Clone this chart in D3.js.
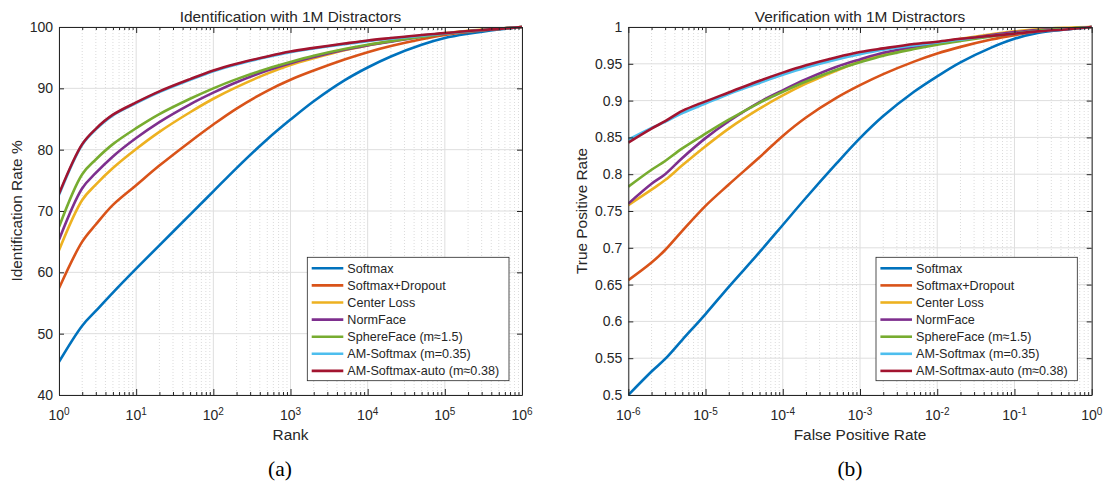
<!DOCTYPE html>
<html><head><meta charset="utf-8">
<script src="https://cdn.jsdelivr.net/npm/d3@7"></script>
<style>
body{margin:0;background:#fff;}
svg text{font-family:"Liberation Sans",Arial,Helvetica,sans-serif;fill:#262626;}
</style></head><body>
<svg id="c" width="1105" height="486"></svg>
<script>
// ---------- data ----------
const seriesNames = ["Softmax","Softmax+Dropout","Center Loss","NormFace","SphereFace (m\u22481.5)","AM-Softmax (m=0.35)","AM-Softmax-auto (m\u22480.38)"];
const seriesColors = ["#0072BD","#D95319","#EDB120","#7E2F8E","#77AC30","#4DBEEE","#A2142F"];

// (a) Identification with 1M distractors
const ranks = [1,2,3,5,10,20,50,100,200,500,1e3,2e3,5e3,1e4,2e4,5e4,1e5,2e5,5e5,1e6];
const idSoftmax     = [45.4,51.3,53.7,56.7,60.6,64.4,69.4,73.2,77.0,81.7,84.9,87.9,91.3,93.4,95.2,97.1,98.2,98.9,99.6,100];
const idDropout     = [57.4,65.0,67.8,71.0,74.2,77.4,81.3,84.1,86.7,89.6,91.4,92.9,94.7,95.9,96.9,98.0,98.7,99.2,99.7,100];
const idCenter      = [63.6,71.8,74.3,77.0,80.1,82.9,86.1,88.3,90.2,92.4,93.8,94.9,96.2,97.0,97.7,98.5,99.0,99.4,99.75,100];
const idNormFace    = [65.3,73.7,76.2,78.9,81.9,84.5,87.4,89.3,91.0,92.9,94.1,95.1,96.3,97.0,97.6,98.4,98.9,99.3,99.7,100];
const idSphereFace  = [67.4,76.0,78.4,80.9,83.5,85.8,88.3,90.0,91.5,93.2,94.3,95.3,96.4,97.1,97.7,98.4,98.9,99.3,99.7,100];
const idAMSoftmax   = [72.6,80.8,83.3,85.6,87.6,89.4,91.4,92.8,93.9,95.1,95.9,96.5,97.2,97.7,98.1,98.6,98.95,99.3,99.7,100];
const idAMAuto      = [72.8,80.9,83.4,85.7,87.7,89.5,91.5,92.9,94.0,95.2,96.0,96.6,97.3,97.8,98.2,98.7,99.0,99.35,99.7,100];

// (b) Verification with 1M distractors
const fpr = [1e-6,2e-6,3e-6,5e-6,1e-5,2e-5,5e-5,1e-4,2e-4,5e-4,1e-3,2e-3,5e-3,1e-2,2e-2,5e-2,1e-1,2e-1,5e-1,1];
const vSoftmax    = [0.500,0.532,0.549,0.575,0.610,0.647,0.694,0.731,0.768,0.815,0.849,0.879,0.912,0.933,0.952,0.972,0.984,0.992,0.997,1.0];
const vDropout    = [0.656,0.680,0.697,0.723,0.757,0.786,0.823,0.852,0.877,0.904,0.921,0.936,0.953,0.964,0.973,0.983,0.989,0.994,0.998,1.0];
const vCenter     = [0.758,0.779,0.792,0.812,0.838,0.862,0.889,0.907,0.923,0.941,0.953,0.963,0.973,0.979,0.984,0.990,0.994,0.997,0.999,1.0];
const vNormFace   = [0.760,0.787,0.800,0.822,0.849,0.872,0.898,0.914,0.929,0.946,0.956,0.965,0.973,0.978,0.983,0.989,0.993,0.996,0.998,1.0];
const vSphereFace = [0.783,0.806,0.818,0.835,0.855,0.874,0.897,0.912,0.926,0.942,0.952,0.961,0.970,0.976,0.981,0.987,0.991,0.995,0.998,1.0];
const vAMSoftmax  = [0.847,0.863,0.871,0.883,0.896,0.909,0.924,0.935,0.945,0.956,0.963,0.969,0.975,0.979,0.983,0.988,0.991,0.994,0.997,1.0];
const vAMAuto     = [0.843,0.862,0.872,0.886,0.899,0.911,0.927,0.938,0.948,0.959,0.966,0.971,0.977,0.980,0.984,0.988,0.991,0.994,0.997,1.0];

const idTicks = [40,50,60,70,80,90,100];
const vTicks = [0.5,0.55,0.6,0.65,0.7,0.75,0.8,0.85,0.9,0.95,1];
const vTickLabels = ["0.5","0.55","0.6","0.65","0.7","0.75","0.8","0.85","0.9","0.95","1"];
const rankDecades = [1,10,100,1e3,1e4,1e5,1e6];
const rankExps = ["0","1","2","3","4","5","6"];
const fprDecades = [1e-6,1e-5,1e-4,1e-3,1e-2,1e-1,1];
const fprExps = ["-6","-5","-4","-3","-2","-1","0"];

// ---------- drawing ----------
const svg = d3.select("#c");
const AX = "#262626";

function panel(o){
  const g = svg.append("g");
  const x = d3.scaleLog().domain(o.xDomain).range([o.l, o.r]);
  const y = d3.scaleLinear().domain(o.yDomain).range([o.b, o.t]);
  const minor = [];
  for(let i=0;i<o.decades.length-1;i++) for(let k=2;k<=9;k++) minor.push(o.decades[i]*k);

  // grids
  g.append("g").selectAll("line").data(minor).join("line")
    .attr("x1",d=>x(d)).attr("x2",d=>x(d)).attr("y1",o.t).attr("y2",o.b)
    .attr("stroke","#d2d2d2").attr("stroke-width",0.8).attr("stroke-dasharray","1,2");
  g.append("g").selectAll("line").data(o.decades).join("line")
    .attr("x1",d=>x(d)).attr("x2",d=>x(d)).attr("y1",o.t).attr("y2",o.b)
    .attr("stroke","#dedede").attr("stroke-width",1);
  g.append("g").selectAll("line").data(o.yTicks).join("line")
    .attr("x1",o.l).attr("x2",o.r).attr("y1",d=>y(d)).attr("y2",d=>y(d))
    .attr("stroke","#dedede").attr("stroke-width",1);

  // clip
  const cid = "clip"+o.id;
  svg.append("clipPath").attr("id",cid).append("rect")
    .attr("x",o.l).attr("y",o.t-2).attr("width",o.r-o.l+2).attr("height",o.b-o.t+2);

  const line = d3.line().x(d=>x(d[0])).y(d=>y(d[1])).curve(d3.curveCatmullRom.alpha(0.5));
  const lg = g.append("g").attr("clip-path",`url(#${cid})`);
  o.series.forEach((s,i)=>{
    lg.append("path").datum(o.xs.map((v,j)=>[v,s[j]]))
      .attr("d",line).attr("fill","none").attr("stroke",seriesColors[i])
      .attr("stroke-width",2.6).attr("stroke-linejoin","round");
  });

  // axes
  const styleAx = sel => { sel.selectAll("path,line").attr("stroke",AX); sel.select(".domain").attr("stroke-width",1); };
  const bMaj = g.append("g").attr("transform",`translate(0,${o.b})`)
    .call(d3.axisBottom(x).tickValues(o.decades).tickSize(-6).tickSizeOuter(0).tickFormat(""));
  const bMin = g.append("g").attr("transform",`translate(0,${o.b})`)
    .call(d3.axisBottom(x).tickValues(minor).tickSize(-3).tickSizeOuter(0).tickFormat(""));
  const tMaj = g.append("g").attr("transform",`translate(0,${o.t})`)
    .call(d3.axisTop(x).tickValues(o.decades).tickSize(-6).tickSizeOuter(0).tickFormat(""));
  const tMin = g.append("g").attr("transform",`translate(0,${o.t})`)
    .call(d3.axisTop(x).tickValues(minor).tickSize(-3).tickSizeOuter(0).tickFormat(""));
  const lAx = g.append("g").attr("transform",`translate(${o.l},0)`)
    .call(d3.axisLeft(y).tickValues(o.yTicks).tickSize(-5).tickSizeOuter(0).tickPadding(6)
      .tickFormat((d,i)=>o.yLabels[i]));
  const rAx = g.append("g").attr("transform",`translate(${o.r},0)`)
    .call(d3.axisRight(y).tickValues(o.yTicks).tickSize(-5).tickSizeOuter(0).tickFormat(""));
  [bMaj,bMin,tMaj,tMin,lAx,rAx].forEach(styleAx);
  [bMin,tMin].forEach(s=>s.select(".domain").remove());
  lAx.selectAll("text").attr("font-size",14).attr("font-family",null).attr("fill",AX);

  // x tick labels with superscripts
  const xl = g.append("g").selectAll("text").data(o.decades).join("text")
    .attr("x",d=>x(d)).attr("y",420).attr("text-anchor","middle").attr("font-size",14);
  xl.text("10").append("tspan").attr("dy",-5.5).attr("font-size",10).text((d,i)=>o.exps[i]);

  // titles
  const cx = (o.l+o.r)/2;
  g.append("text").attr("x",cx).attr("y",21.5).attr("text-anchor","middle").attr("font-size",15.4).text(o.title);
  g.append("text").attr("x",cx).attr("y",440).attr("text-anchor","middle").attr("font-size",15.4).text(o.xlabel);
  g.append("text").attr("transform",`translate(${o.ylx},${(o.t+o.b)/2}) rotate(-90)`)
    .attr("text-anchor","middle").attr("font-size",15.4).text(o.ylabel);
  g.append("text").attr("x",o.capx).attr("y",475.5).attr("text-anchor","middle")
    .attr("font-size",21.5).style("font-family","'Liberation Serif','Times New Roman',serif").style("fill","#000").text(o.caption);

  // legend
  const L = o.legend;
  const leg = g.append("g");
  leg.append("rect").attr("x",L.x).attr("y",L.y).attr("width",L.w).attr("height",L.h)
    .attr("fill","#fff").attr("stroke",AX).attr("stroke-width",0.8);
  seriesNames.forEach((nm,i)=>{
    const yy = L.y + 11 + i*17.1;
    leg.append("line").attr("x1",L.x+4.4).attr("x2",L.x+36).attr("y1",yy).attr("y2",yy)
      .attr("stroke",seriesColors[i]).attr("stroke-width",2.6);
    leg.append("text").attr("x",L.x+40).attr("y",yy).attr("dy","0.35em").attr("font-size",12.6).text(nm);
  });
}

panel({id:"a", l:59, r:522, t:27, b:395, xDomain:[1,1e6], yDomain:[40,100],
  decades:rankDecades, exps:rankExps, yTicks:idTicks, yLabels:idTicks.map(String),
  xs:ranks, series:[idSoftmax,idDropout,idCenter,idNormFace,idSphereFace,idAMSoftmax,idAMAuto],
  title:"Identification with 1M Distractors", xlabel:"Rank", ylabel:"Identification Rate %",
  ylx:21.5, caption:"(a)", capx:280,
  legend:{x:307.3,y:257.3,w:201.7,h:123.4}});

panel({id:"b", l:628.3, r:1091.7, t:27, b:395, xDomain:[1e-6,1], yDomain:[0.5,1],
  decades:fprDecades, exps:fprExps, yTicks:vTicks, yLabels:vTickLabels,
  xs:fpr, series:[vSoftmax,vDropout,vCenter,vNormFace,vSphereFace,vAMSoftmax,vAMAuto],
  title:"Verification with 1M Distractors", xlabel:"False Positive Rate", ylabel:"True Positive Rate",
  ylx:586.5, caption:"(b)", capx:850,
  legend:{x:876,y:257.3,w:201.3,h:123.4}});
</script>
</body></html>
